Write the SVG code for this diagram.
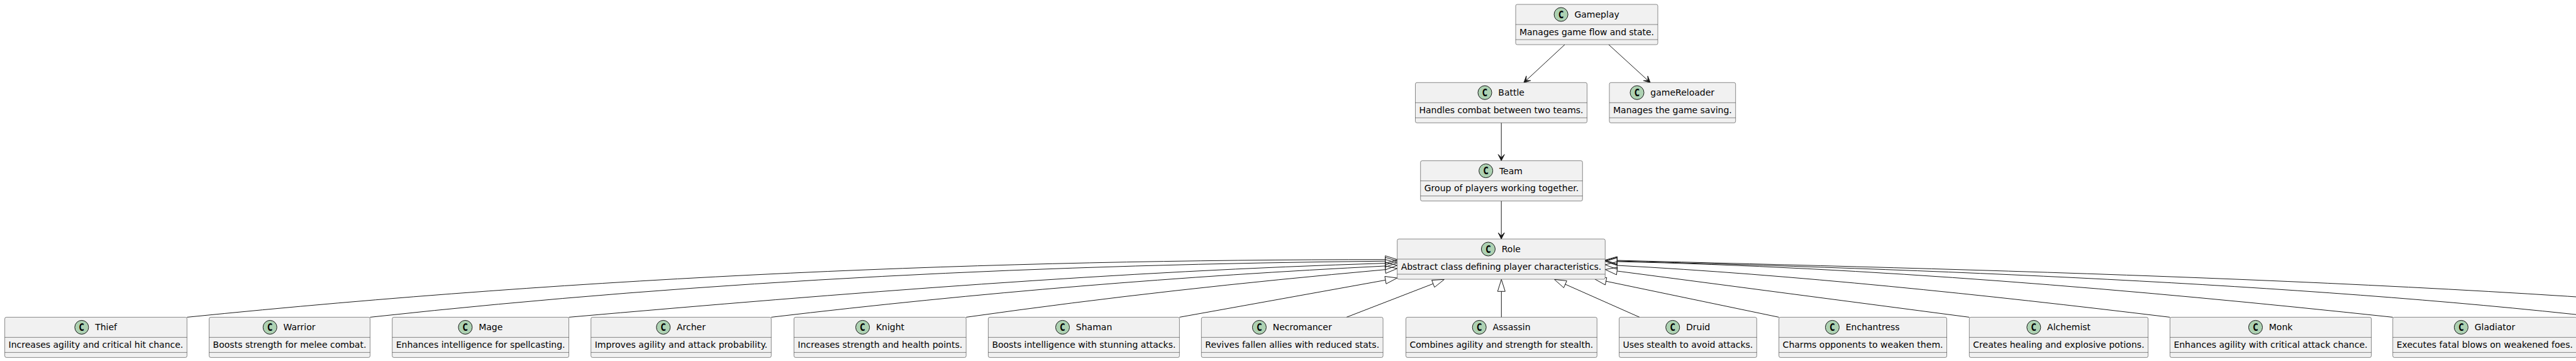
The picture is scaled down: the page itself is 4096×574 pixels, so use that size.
<svg xmlns="http://www.w3.org/2000/svg" width="4096" height="574" viewBox="0 0 4096 574">
<style>
.box{fill:#F1F1F1;stroke:#181818;stroke-width:0.5}
.dv{stroke:#181818;stroke-width:0.5}
.ci{fill:#ADD1B2;stroke:#181818;stroke-width:1}
.cl{font-family:"DejaVu Sans","Liberation Sans",sans-serif;font-weight:bold;font-size:16px;fill:#000000;text-anchor:middle}
.nm{font-family:"DejaVu Sans","Liberation Sans",sans-serif;font-size:14px;fill:#000000}
.ds{font-family:"DejaVu Sans","Liberation Sans",sans-serif;font-size:14px;fill:#000000}
.edge{fill:none;stroke:#181818;stroke-width:1}
.head{fill:#181818;stroke:#181818;stroke-width:1}
.ext{fill:none;stroke:#181818;stroke-width:1}
</style>
<rect x="0" y="0" width="4096" height="574" fill="#FFFFFF"/>

<g id="connectors">
<path class="edge" d="M2488,71 L2426.67,127.9"/>
<polygon class="head" points="2423,131.3 2433.73,128.17 2426.67,127.9 2426.93,120.83"/>
<path class="edge" d="M2558,71 L2620.31,127.93"/>
<polygon class="head" points="2624,131.3 2613.25,128.24 2620.31,127.93 2619.99,120.86"/>
<path class="edge" d="M2387.2,195.3 L2387.2,250.6"/>
<polygon class="head" points="2387.2,255.6 2392.2,245.6 2387.2,250.6 2382.2,245.6"/>
<path class="edge" d="M2387.2,319.6 L2387.2,375"/>
<polygon class="head" points="2387.2,380 2392.2,370 2387.2,375 2382.2,370"/>

<path class="edge" d="M297.3,504.4 C938,439.5 1580,412.7 2202.7,412.7"/>
<polygon class="ext" points="2221.7,412.7 2202.7,406.7 2202.7,418.7"/>
<path class="edge" d="M588.4,504.4 C1132,445 1677.7,420.4 2202.7,415.19"/>
<polygon class="ext" points="2221.7,415 2202.76,421.19 2202.64,409.19"/>
<path class="edge" d="M904.5,504.4 C1343,466 1782.9,431.2 2202.7,418.57"/>
<polygon class="ext" points="2221.7,418 2202.88,424.57 2202.52,412.57"/>
<path class="edge" d="M1226.3,504.4 C1558,465 1882.7,438.95 2202.7,422.95"/>
<polygon class="ext" points="2221.7,422 2203,428.95 2202.4,416.95"/>
<path class="edge" d="M1536.2,504.4 C1765,472 1972.8,449.4 2202.8,428.7"/>
<polygon class="ext" points="2221.7,427 2203.32,434.68 2202.24,422.72"/>
<path class="edge" d="M1875.4,504.4 L2203,445.37"/>
<polygon class="ext" points="2221.7,442 2204.06,451.27 2201.94,439.47"/>
<path class="edge" d="M2141,504.4 L2278.78,451.15"/>
<polygon class="ext" points="2296.5,444.3 2280.94,456.75 2276.62,445.55"/>
<path class="edge" d="M2387.3,504.4 L2387.3,463.3"/>
<polygon class="ext" points="2387.3,444.3 2393.3,463.3 2381.3,463.3"/>
<path class="edge" d="M2607,504.4 L2488.87,452"/>
<polygon class="ext" points="2471.5,444.3 2491.3,446.5 2486.44,457.49"/>
<path class="edge" d="M2828.6,504.4 L2553.6,447.17"/>
<polygon class="ext" points="2535,443.3 2554.82,441.3 2552.38,453.04"/>
<path class="edge" d="M3131.3,504.4 L2571.14,430.97"/>
<polygon class="ext" points="2552.3,428.5 2571.92,425.02 2570.36,436.92"/>
<path class="edge" d="M2571.27,422.01 C2852,437 3150,468 3450.4,504.4"/>
<polygon class="ext" points="2552.3,421 2571.59,416.02 2570.95,428"/>
<path class="edge" d="M2571.3,415.93 C2970,425 3390,460 3804.7,504.4"/>
<polygon class="ext" points="2552.3,415.5 2571.44,409.93 2571.16,421.93"/>
<path class="edge" d="M2571.29,414 C3100,428 3900,445 4500,504.4"/>
<polygon class="ext" points="2552.3,413.5 2571.45,408 2571.13,420"/>
<path class="edge" d="M2571.29,415.01 C3050,428 3650,450 4135,504.4"/>
<polygon class="ext" points="2552.3,414.5 2571.45,409 2571.13,421"/>
</g>

<g id="Gameplay" transform="translate(2410,7)">
<rect class="box" x="0" y="0" width="226" height="64" rx="2.5"/>
<line class="dv" x1="0" y1="32" x2="226" y2="32"/><line class="dv" x1="0" y1="56" x2="226" y2="56"/>
<circle class="ci" cx="72.13" cy="16" r="11"/><text class="cl" x="72.13" y="21.8" textLength="8" lengthAdjust="spacingAndGlyphs">C</text>
<text class="nm" x="93.43" y="21">Gameplay</text>
<text class="ds" x="6" y="48.5" textLength="214" lengthAdjust="spacing">Manages game flow and state.</text>
</g>

<g id="Battle" transform="translate(2250.5,131.3)">
<rect class="box" x="0" y="0" width="273" height="64" rx="2.5"/>
<line class="dv" x1="0" y1="32" x2="273" y2="32"/><line class="dv" x1="0" y1="56" x2="273" y2="56"/>
<circle class="ci" cx="110.51" cy="16" r="11"/><text class="cl" x="110.51" y="21.8" textLength="8" lengthAdjust="spacingAndGlyphs">C</text>
<text class="nm" x="131.81" y="21">Battle</text>
<text class="ds" x="6" y="48.5" textLength="261" lengthAdjust="spacing">Handles combat between two teams.</text>
</g>

<g id="gameReloader" transform="translate(2559,131.3)">
<rect class="box" x="0" y="0" width="200.7" height="64" rx="2.5"/>
<line class="dv" x1="0" y1="32" x2="200.7" y2="32"/><line class="dv" x1="0" y1="56" x2="200.7" y2="56"/>
<circle class="ci" cx="44.02" cy="16" r="11"/><text class="cl" x="44.02" y="21.8" textLength="8" lengthAdjust="spacingAndGlyphs">C</text>
<text class="nm" x="65.32" y="21">gameReloader</text>
<text class="ds" x="6" y="48.5" textLength="188.7" lengthAdjust="spacing">Manages the game saving.</text>
</g>

<g id="Team" transform="translate(2258.7,255.6)">
<rect class="box" x="0" y="0" width="257.6" height="64" rx="2.5"/>
<line class="dv" x1="0" y1="32" x2="257.6" y2="32"/><line class="dv" x1="0" y1="56" x2="257.6" y2="56"/>
<circle class="ci" cx="103.96" cy="16" r="11"/><text class="cl" x="103.96" y="21.8" textLength="8" lengthAdjust="spacingAndGlyphs">C</text>
<text class="nm" x="125.26" y="21">Team</text>
<text class="ds" x="6" y="48.5" textLength="245.6" lengthAdjust="spacing">Group of players working together.</text>
</g>

<g id="Role" transform="translate(2221.7,380)">
<rect class="box" x="0" y="0" width="330.6" height="64" rx="2.5"/>
<line class="dv" x1="0" y1="32" x2="330.6" y2="32"/><line class="dv" x1="0" y1="56" x2="330.6" y2="56"/>
<circle class="ci" cx="144.75" cy="16" r="11"/><text class="cl" x="144.75" y="21.8" textLength="8" lengthAdjust="spacingAndGlyphs">C</text>
<text class="nm" x="166.05" y="21">Role</text>
<text class="ds" x="6" y="48.5" textLength="318.6" lengthAdjust="spacing">Abstract class defining player characteristics.</text>
</g>

<g id="Thief" transform="translate(7.6,504.4)">
<rect class="box" x="0" y="0" width="289.7" height="64" rx="2.5"/>
<line class="dv" x1="0" y1="32" x2="289.7" y2="32"/><line class="dv" x1="0" y1="56" x2="289.7" y2="56"/>
<circle class="ci" cx="122.27" cy="16" r="11"/><text class="cl" x="122.27" y="21.8" textLength="8" lengthAdjust="spacingAndGlyphs">C</text>
<text class="nm" x="143.57" y="21">Thief</text>
<text class="ds" x="6" y="48.5" textLength="277.7" lengthAdjust="spacing">Increases agility and critical hit chance.</text>
</g>

<g id="Warrior" transform="translate(332.6,504.4)">
<rect class="box" x="0" y="0" width="255.8" height="64" rx="2.5"/>
<line class="dv" x1="0" y1="32" x2="255.8" y2="32"/><line class="dv" x1="0" y1="56" x2="255.8" y2="56"/>
<circle class="ci" cx="96.67" cy="16" r="11"/><text class="cl" x="96.67" y="21.8" textLength="8" lengthAdjust="spacingAndGlyphs">C</text>
<text class="nm" x="117.97" y="21">Warrior</text>
<text class="ds" x="6" y="48.5" textLength="243.8" lengthAdjust="spacing">Boosts strength for melee combat.</text>
</g>

<g id="Mage" transform="translate(623.7,504.4)">
<rect class="box" x="0" y="0" width="280.8" height="64" rx="2.5"/>
<line class="dv" x1="0" y1="32" x2="280.8" y2="32"/><line class="dv" x1="0" y1="56" x2="280.8" y2="56"/>
<circle class="ci" cx="116.17" cy="16" r="11"/><text class="cl" x="116.17" y="21.8" textLength="8" lengthAdjust="spacingAndGlyphs">C</text>
<text class="nm" x="137.47" y="21">Mage</text>
<text class="ds" x="6" y="48.5" textLength="268.8" lengthAdjust="spacing">Enhances intelligence for spellcasting.</text>
</g>

<g id="Archer" transform="translate(939.7,504.4)">
<rect class="box" x="0" y="0" width="286.6" height="64" rx="2.5"/>
<line class="dv" x1="0" y1="32" x2="286.6" y2="32"/><line class="dv" x1="0" y1="56" x2="286.6" y2="56"/>
<circle class="ci" cx="115.01" cy="16" r="11"/><text class="cl" x="115.01" y="21.8" textLength="8" lengthAdjust="spacingAndGlyphs">C</text>
<text class="nm" x="136.31" y="21">Archer</text>
<text class="ds" x="6" y="48.5" textLength="274.6" lengthAdjust="spacing">Improves agility and attack probability.</text>
</g>

<g id="Knight" transform="translate(1262.5,504.4)">
<rect class="box" x="0" y="0" width="273.7" height="64" rx="2.5"/>
<line class="dv" x1="0" y1="32" x2="273.7" y2="32"/><line class="dv" x1="0" y1="56" x2="273.7" y2="56"/>
<circle class="ci" cx="109.1" cy="16" r="11"/><text class="cl" x="109.1" y="21.8" textLength="8" lengthAdjust="spacingAndGlyphs">C</text>
<text class="nm" x="130.4" y="21">Knight</text>
<text class="ds" x="6" y="48.5" textLength="261.7" lengthAdjust="spacing">Increases strength and health points.</text>
</g>

<g id="Shaman" transform="translate(1571.4,504.4)">
<rect class="box" x="0" y="0" width="304" height="64" rx="2.5"/>
<line class="dv" x1="0" y1="32" x2="304" y2="32"/><line class="dv" x1="0" y1="56" x2="304" y2="56"/>
<circle class="ci" cx="118.13" cy="16" r="11"/><text class="cl" x="118.13" y="21.8" textLength="8" lengthAdjust="spacingAndGlyphs">C</text>
<text class="nm" x="139.43" y="21">Shaman</text>
<text class="ds" x="6" y="48.5" textLength="292" lengthAdjust="spacing">Boosts intelligence with stunning attacks.</text>
</g>

<g id="Necromancer" transform="translate(1910.3,504.4)">
<rect class="box" x="0" y="0" width="288.8" height="64" rx="2.5"/>
<line class="dv" x1="0" y1="32" x2="288.8" y2="32"/><line class="dv" x1="0" y1="56" x2="288.8" y2="56"/>
<circle class="ci" cx="92.12" cy="16" r="11"/><text class="cl" x="92.12" y="21.8" textLength="8" lengthAdjust="spacingAndGlyphs">C</text>
<text class="nm" x="113.42" y="21">Necromancer</text>
<text class="ds" x="6" y="48.5" textLength="276.8" lengthAdjust="spacing">Revives fallen allies with reduced stats.</text>
</g>

<g id="Assassin" transform="translate(2235.5,504.4)">
<rect class="box" x="0" y="0" width="303.8" height="64" rx="2.5"/>
<line class="dv" x1="0" y1="32" x2="303.8" y2="32"/><line class="dv" x1="0" y1="56" x2="303.8" y2="56"/>
<circle class="ci" cx="116.7" cy="16" r="11"/><text class="cl" x="116.7" y="21.8" textLength="8" lengthAdjust="spacingAndGlyphs">C</text>
<text class="nm" x="138" y="21">Assassin</text>
<text class="ds" x="6" y="48.5" textLength="291.8" lengthAdjust="spacing">Combines agility and strength for stealth.</text>
</g>

<g id="Druid" transform="translate(2574.6,504.4)">
<rect class="box" x="0" y="0" width="218.7" height="64" rx="2.5"/>
<line class="dv" x1="0" y1="32" x2="218.7" y2="32"/><line class="dv" x1="0" y1="56" x2="218.7" y2="56"/>
<circle class="ci" cx="85.1" cy="16" r="11"/><text class="cl" x="85.1" y="21.8" textLength="8" lengthAdjust="spacingAndGlyphs">C</text>
<text class="nm" x="106.4" y="21">Druid</text>
<text class="ds" x="6" y="48.5" textLength="206.7" lengthAdjust="spacing">Uses stealth to avoid attacks.</text>
</g>

<g id="Enchantress" transform="translate(2828.6,504.4)">
<rect class="box" x="0" y="0" width="266.9" height="64" rx="2.5"/>
<line class="dv" x1="0" y1="32" x2="266.9" y2="32"/><line class="dv" x1="0" y1="56" x2="266.9" y2="56"/>
<circle class="ci" cx="84.86" cy="16" r="11"/><text class="cl" x="84.86" y="21.8" textLength="8" lengthAdjust="spacingAndGlyphs">C</text>
<text class="nm" x="106.16" y="21">Enchantress</text>
<text class="ds" x="6" y="48.5" textLength="254.9" lengthAdjust="spacing">Charms opponents to weaken them.</text>
</g>

<g id="Alchemist" transform="translate(3131.3,504.4)">
<rect class="box" x="0" y="0" width="284.3" height="64" rx="2.5"/>
<line class="dv" x1="0" y1="32" x2="284.3" y2="32"/><line class="dv" x1="0" y1="56" x2="284.3" y2="56"/>
<circle class="ci" cx="102.52" cy="16" r="11"/><text class="cl" x="102.52" y="21.8" textLength="8" lengthAdjust="spacingAndGlyphs">C</text>
<text class="nm" x="123.82" y="21">Alchemist</text>
<text class="ds" x="6" y="48.5" textLength="272.3" lengthAdjust="spacing">Creates healing and explosive potions.</text>
</g>

<g id="Monk" transform="translate(3450.4,504.4)">
<rect class="box" x="0" y="0" width="320.1" height="64" rx="2.5"/>
<line class="dv" x1="0" y1="32" x2="320.1" y2="32"/><line class="dv" x1="0" y1="56" x2="320.1" y2="56"/>
<circle class="ci" cx="136.08" cy="16" r="11"/><text class="cl" x="136.08" y="21.8" textLength="8" lengthAdjust="spacingAndGlyphs">C</text>
<text class="nm" x="157.38" y="21">Monk</text>
<text class="ds" x="6" y="48.5" textLength="308.1" lengthAdjust="spacing">Enhances agility with critical attack chance.</text>
</g>

<g id="Gladiator" transform="translate(3804.7,504.4)">
<rect class="box" x="0" y="0" width="292.3" height="64" rx="2.5"/>
<line class="dv" x1="0" y1="32" x2="292.3" y2="32"/><line class="dv" x1="0" y1="56" x2="292.3" y2="56"/>
<circle class="ci" cx="108.7" cy="16" r="11"/><text class="cl" x="108.7" y="21.8" textLength="8" lengthAdjust="spacingAndGlyphs">C</text>
<text class="nm" x="130" y="21">Gladiator</text>
<text class="ds" x="6" y="48.5" textLength="280.3" lengthAdjust="spacing">Executes fatal blows on weakened foes.</text>
</g>
</svg>
